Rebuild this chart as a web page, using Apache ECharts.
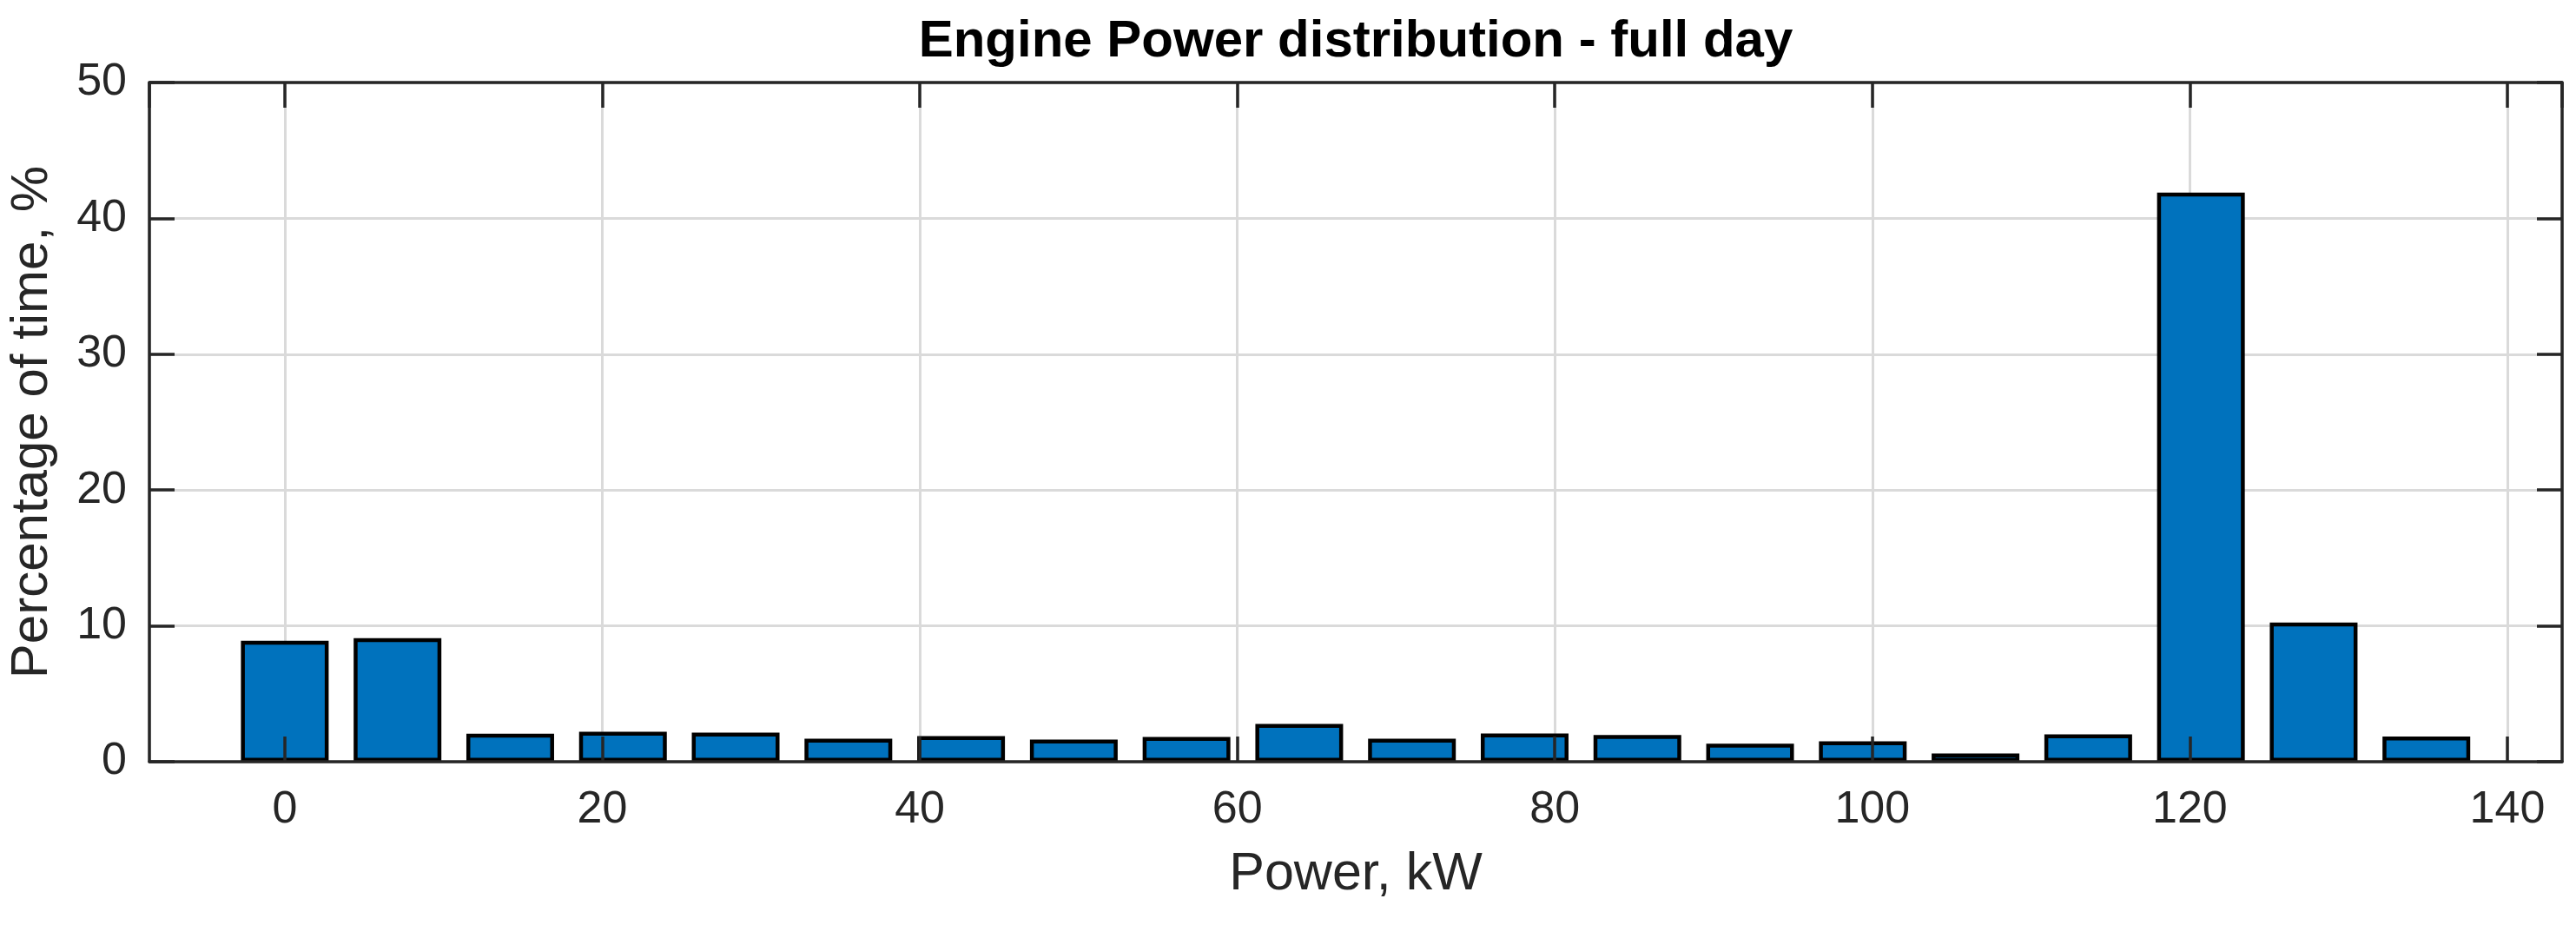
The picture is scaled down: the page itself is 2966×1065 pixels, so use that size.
<!DOCTYPE html>
<html>
<head>
<meta charset="utf-8">
<title>Engine Power distribution - full day</title>
<script src="https://cdn.jsdelivr.net/npm/echarts@6/dist/echarts.min.js"></script>
<style>
    html, body { margin: 0; padding: 0; background: #fff; }
    #main { width: 2966px; height: 1065px; }
</style>
</head>
<body>
<div id="main"></div>
<script>
// bin centres (kW) and share of time (%)
const powerBins = [0, 7.1, 14.2, 21.3, 28.4, 35.5, 42.6, 49.7, 56.8, 63.9,
    71, 78.1, 85.2, 92.3, 99.4, 106.5, 113.6, 120.7, 127.8, 134.9];
const timeShare = [8.9, 9.1, 2.06, 2.21, 2.14, 1.70, 1.89, 1.63, 1.82, 2.78,
    1.70, 2.08, 1.97, 1.33, 1.50, 0.61, 2.02, 41.9, 10.25, 1.85];

const xRange = [-8.53, 143.45];
const yRange = [0, 50];
const yStep = 10;
const xStep = 20;

const axisColor = '#262626';
const gridColor = '#dadada';
const fontFamily = '"Liberation Sans", Arial, Helvetica, sans-serif';

const gridLeft = 172;
const gridRight = 16;

// MATLAB style box: grid lines sit under the bars, axis lines and ticks over them
function xAxisDef(position, opts) {
    return Object.assign({
        type: 'value',
        position: position,
        min: xRange[0],
        max: xRange[1],
        minInterval: xStep,
        maxInterval: xStep,
        axisLine: {show: false},
        axisTick: {show: false},
        axisLabel: {show: false},
        splitLine: {show: false}
    }, opts);
}

function yAxisDef(position, opts) {
    return Object.assign({
        type: 'value',
        position: position,
        min: yRange[0],
        max: yRange[1],
        interval: yStep,
        axisLine: {show: false},
        axisTick: {show: false},
        axisLabel: {show: false},
        splitLine: {show: false}
    }, opts);
}

const boxLine = {show: true, onZero: false, lineStyle: {color: axisColor, width: 3.5}};
const boxTick = {show: true, inside: true, length: 29, lineStyle: {color: axisColor, width: 3.5}};

const chartDom = document.getElementById('main');
const myChart = echarts.init(chartDom);

const option = {
    animation: false,
    backgroundColor: '#fff',
    title: {
        text: 'Engine Power distribution - full day',
        // centred over the plot box, not the page
        left: gridLeft + (chartDom.clientWidth - gridLeft - gridRight) / 2,
        textAlign: 'center',
        top: 18,
        padding: 0,
        textStyle: {fontFamily: fontFamily, fontSize: 60, fontWeight: 'bold', color: '#000'}
    },
    grid: {left: gridLeft, right: gridRight, top: 95, bottom: 188, containLabel: false, outerBoundsMode: 'none'},
    xAxis: [
        xAxisDef('bottom', {
            z: 0,
            splitLine: {show: true, lineStyle: {color: gridColor, width: 3}}
        }),
        xAxisDef('bottom', {
            z: 5,
            name: 'Power, kW',
            nameLocation: 'middle',
            nameGap: 100,
            nameTextStyle: {fontFamily: fontFamily, fontSize: 61, color: axisColor},
            axisLine: boxLine,
            axisTick: boxTick,
            axisLabel: {
                show: true, margin: 30, showMinLabel: false, showMaxLabel: false,
                fontFamily: fontFamily, fontSize: 52, color: axisColor
            }
        }),
        xAxisDef('top', {z: 5, axisLine: boxLine, axisTick: boxTick})
    ],
    yAxis: [
        yAxisDef('left', {
            z: 0,
            splitLine: {show: true, lineStyle: {color: gridColor, width: 3}}
        }),
        yAxisDef('left', {
            z: 5,
            name: 'Percentage of time, %',
            nameLocation: 'middle',
            nameGap: 105,
            nameTextStyle: {fontFamily: fontFamily, fontSize: 60, color: axisColor},
            axisLine: boxLine,
            axisTick: boxTick,
            axisLabel: {show: true, margin: 26, fontFamily: fontFamily, fontSize: 52, color: axisColor}
        }),
        yAxisDef('right', {z: 5, axisLine: boxLine, axisTick: boxTick})
    ],
    series: [
        {
            name: 'Time share',
            type: 'bar',
            xAxisIndex: 0,
            yAxisIndex: 0,
            barWidth: 101,
            itemStyle: {color: '#0072BD', borderColor: '#000', borderWidth: 4.5},
            data: powerBins.map((p, i) => [p, timeShare[i]])
        }
    ]
};

myChart.setOption(option);
</script>
</body>
</html>
